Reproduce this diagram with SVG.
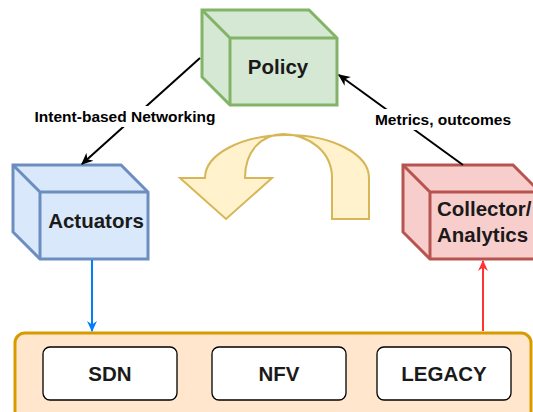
<svg xmlns="http://www.w3.org/2000/svg" width="533" height="412" viewBox="0 0 533 412">
  <style>
    .lbl { font-family: "Liberation Sans", Arial, sans-serif; font-weight: bold; fill: #1a1a1a; }
    .node { font-size: 20.5px; }
    .edge { font-size: 15.5px; fill: #000; }
    .cube { stroke-width: 3; stroke-linejoin: miter; }
    .box { fill: #ffffff; stroke: #000; stroke-width: 1.3; }
  </style>
  <defs>
    <marker id="arrBlack" viewBox="0 0 10 10" refX="9" refY="5" markerWidth="12" markerHeight="12" markerUnits="userSpaceOnUse" orient="auto">
      <path d="M0,0.5 L10,5 L0,9.5 L3,5 Z" fill="#000"/>
    </marker>
    <marker id="arrBlue" viewBox="0 0 10 10" refX="9" refY="5" markerWidth="11" markerHeight="11" markerUnits="userSpaceOnUse" orient="auto">
      <path d="M0,0.5 L10,5 L0,9.5 L3,5 Z" fill="#007FFF"/>
    </marker>
    <marker id="arrRed" viewBox="0 0 10 10" refX="9" refY="5" markerWidth="11" markerHeight="11" markerUnits="userSpaceOnUse" orient="auto">
      <path d="M0,0.5 L10,5 L0,9.5 L3,5 Z" fill="#FF3333"/>
    </marker>
  </defs>

  <!-- infrastructure layer -->
  <g id="infrastructure">
    <rect x="15" y="333" width="516" height="100" rx="10" fill="#ffe6cc" stroke="#d79b00" stroke-width="3"/>
  </g>
  <g id="sdn">
    <rect class="box" x="43" y="347" width="134" height="53" rx="7"/>
    <text class="lbl node" x="110" y="381" text-anchor="middle" fill="#000">SDN</text>
  </g>
  <g id="nfv">
    <rect class="box" x="212" y="347" width="134" height="53" rx="7"/>
    <text class="lbl node" x="279" y="381" text-anchor="middle">NFV</text>
  </g>
  <g id="legacy">
    <rect class="box" x="377" y="347" width="134" height="53" rx="7"/>
    <text class="lbl node" x="444" y="381" text-anchor="middle">LEGACY</text>
  </g>

  <!-- feedback loop indicator -->
  <g id="loop">
    <path d="M369,219 L369,178 C369,154 332,135 287,135 C242,135 205,154 205,178 L180,178 L226,219 L272,178 L245,178 C245,152 260,135 283,134 C310,135 332,152 332,178 L332,219 Z"
          fill="#fff2cc" stroke="#d6b656" stroke-width="2" stroke-linejoin="miter"/>
  </g>

  <!-- policy cube -->
  <g id="policy">
    <path class="cube" d="M202,10 L309,10 L337,38 L337,105 L230,105 L202,77 Z" fill="#d5e8d4" stroke="#82b366"/>
    <path class="cube" d="M202,10 L230,38 L337,38 M230,38 L230,105" fill="none" stroke="#82b366"/>
    <text class="lbl node" x="278" y="74" text-anchor="middle">Policy</text>
  </g>

  <!-- actuators cube -->
  <g id="actuators">
    <path class="cube" d="M13,165 L121,165 L148,192 L148,259 L40,259 L13,232 Z" fill="#dae8fc" stroke="#6c8ebf"/>
    <path class="cube" d="M13,165 L40,192 L148,192 M40,192 L40,259" fill="none" stroke="#6c8ebf"/>
    <text class="lbl node" x="96" y="228" text-anchor="middle">Actuators</text>
  </g>

  <!-- collector / analytics cube -->
  <g id="collector">
    <path class="cube" d="M403,165 L513,165 L540,192 L540,259 L430,259 L403,232 Z" fill="#f8cecc" stroke="#b85450"/>
    <path class="cube" d="M403,165 L430,192 L540,192 M430,192 L430,259" fill="none" stroke="#b85450"/>
    <text class="lbl node" x="437" y="216">Collector/</text>
    <text class="lbl node" x="437" y="242">Analytics</text>
  </g>

  <!-- connectors -->
  <g id="connectors" fill="none" stroke-width="2">
    <line x1="200" y1="58" x2="82" y2="164" stroke="#000" marker-end="url(#arrBlack)"/>
    <line x1="463" y1="165" x2="339" y2="75" stroke="#000" marker-end="url(#arrBlack)"/>
    <line x1="92" y1="260" x2="92" y2="331" stroke="#007FFF" marker-end="url(#arrBlue)"/>
    <line x1="483" y1="331" x2="483" y2="261" stroke="#FF3333" marker-end="url(#arrRed)"/>
    <rect x="30" y="106" width="190" height="21" fill="#ffffff" stroke="none"/>
    <rect x="371" y="109" width="145" height="21" fill="#ffffff" stroke="none"/>
    <text class="lbl edge" x="125" y="122" text-anchor="middle" stroke="none">Intent-based Networking</text>
    <text class="lbl edge" x="443" y="125" text-anchor="middle" stroke="none">Metrics, outcomes</text>
  </g>
</svg>
